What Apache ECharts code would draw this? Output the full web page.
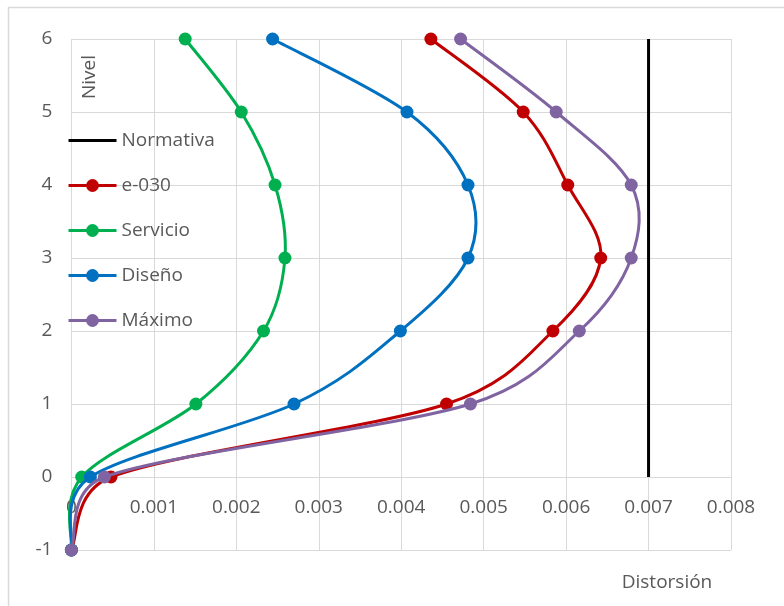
<!DOCTYPE html>
<html>
<head>
<meta charset="utf-8">
<script src="https://cdn.jsdelivr.net/npm/echarts@6/dist/echarts.min.js"></script>
<style>
html,body{margin:0;padding:0;background:#fff;}
#chart{width:784px;height:606px;}
</style>
</head>
<body>
<div id="chart"></div>
<script>
// Levels (y values)
var levels = [-1, 0, 1, 2, 3, 4, 5, 6];
// Distortion values per series
var e030     = [0, 0.00048, 0.00455, 0.00584, 0.00642, 0.00602, 0.00548, 0.00436];
var servicio = [0, 0.000125, 0.00151, 0.00233, 0.00259, 0.00247, 0.00206, 0.00138];
var diseno   = [0, 0.00023, 0.0027, 0.00399, 0.00481, 0.00481, 0.00407, 0.00244];
var maximo   = [0, 0.0004, 0.00484, 0.00616, 0.00679, 0.00679, 0.00588, 0.00472];
// Code limit line
var normativaX = [0.007, 0.007];
var normativaY = [0, 6];
var seriesNames = ['Normativa', 'e-030', 'Servicio', 'Diseño', 'Máximo'];
var xTicks = { min: 0, max: 0.008, step: 0.001 };
var yTicks = { min: -1, max: 6, step: 1 };

function pairs(xs, ys) { return xs.map(function (x, i) { return [x, ys[i]]; }); }

var FONT = 'Open Sans';
var TXT = '#595959';
var GRID = '#d9d9d9';

// Excel-like smoothed curve drawn segment by segment through the axis scales
function smoothCurve(xs, color, z) {
  var n = xs.length;
  return {
    type: 'custom', coordinateSystem: 'cartesian2d', silent: true, z: z,
    data: pairs(xs, levels), encode: { x: 0, y: 1 },
    renderItem: function (params, api) {
      var i = params.dataIndex;
      if (i >= n - 1) return null;
      function P(k) { k = Math.max(0, Math.min(n - 1, k)); return api.coord([xs[k], levels[k]]); }
      var p0 = P(i - 1), p1 = P(i), p2 = P(i + 1), p3 = P(i + 2);
      var seg = Math.hypot(p2[0] - p1[0], p2[1] - p1[1]);
      function ctrl(a, b) {
        var dx = (b[0] - a[0]) / 6, dy = (b[1] - a[1]) / 6;
        var l = Math.hypot(dx, dy), lim = seg / 2;
        if (l > lim && l > 0) { dx *= lim / l; dy *= lim / l; }
        return [dx, dy];
      }
      var c1 = ctrl(p0, p2), c2 = ctrl(p1, p3);
      return {
        type: 'bezierCurve',
        shape: { x1: p1[0], y1: p1[1], x2: p2[0], y2: p2[1],
                 cpx1: p1[0] + c1[0], cpy1: p1[1] + c1[1],
                 cpx2: p2[0] - c2[0], cpy2: p2[1] - c2[1] },
        style: { stroke: color, lineWidth: 3, fill: 'none', lineCap: 'round' }
      };
    }
  };
}

function markers(name, xs, color, z) {
  return {
    name: name, type: 'line', data: pairs(xs, levels), z: z,
    symbol: 'circle', symbolSize: 13,
    lineStyle: { color: color, width: 3, opacity: 0 },
    itemStyle: { color: color },
    emphasis: { disabled: true }
  };
}

var legendData = seriesNames.map(function (n) {
  return n === 'Normativa' ? { name: n, icon: 'path://M0 0H48V3H0Z' } : { name: n };
});

var chart = echarts.init(document.getElementById('chart'));
chart.setOption({
  animation: false,
  backgroundColor: '#fff',
  textStyle: { fontFamily: FONT },
  grid: { left: 71.4, right: 53, top: 39, bottom: 56, containLabel: false },
  xAxis: {
    type: 'value', min: xTicks.min, max: xTicks.max, interval: xTicks.step,
    position: 'bottom', offset: -73,
    axisLine: { show: false, onZero: false },
    axisTick: { show: false },
    axisLabel: { color: TXT, fontSize: 19, fontFamily: FONT, margin: 21,
      formatter: function (v) { return v === 0 ? '0' : v.toFixed(3); } },
    splitLine: { show: true, lineStyle: { color: GRID, width: 1 } }
  },
  yAxis: {
    type: 'value', min: yTicks.min, max: yTicks.max, interval: yTicks.step,
    axisLine: { show: false, onZero: false },
    axisTick: { show: false },
    axisLabel: { color: TXT, fontSize: 19, fontFamily: FONT, margin: 19 },
    splitLine: { show: true, lineStyle: { color: GRID, width: 1 } }
  },
  legend: {
    data: legendData,
    orient: 'vertical', left: 62, top: 126,
    itemWidth: 48, itemHeight: 16, itemGap: 26,
    lineStyle: { width: 3, opacity: 1 },
    textStyle: { color: TXT, fontSize: 19, fontFamily: FONT },
    selectedMode: false
  },
  graphic: [
    { type: 'rect', shape: { x: 8.5, y: 7.5, width: 820, height: 700 },
      style: { fill: 'none', stroke: GRID, lineWidth: 1.5 }, silent: true, z: -10 },
    { type: 'text', x: 89.5, y: 77, rotation: Math.PI / 2,
      style: { text: 'Nivel', fill: TXT, font: '19px "Open Sans"', textAlign: 'center', textVerticalAlign: 'middle' } },
    { type: 'text', x: 667, y: 583,
      style: { text: 'Distorsión', fill: TXT, font: '19px "Open Sans"', textAlign: 'center', textVerticalAlign: 'middle' } }
  ],
  series: [
    { name: 'Normativa', type: 'line', data: pairs(normativaX, normativaY), z: 2,
      symbol: 'none', lineStyle: { color: '#000', width: 3 }, itemStyle: { color: '#000' },
      emphasis: { disabled: true } },
    smoothCurve(e030, '#C00000', 3),
    markers('e-030', e030, '#C00000', 4),
    smoothCurve(servicio, '#00B050', 5),
    markers('Servicio', servicio, '#00B050', 6),
    smoothCurve(diseno, '#0070C0', 7),
    markers('Diseño', diseno, '#0070C0', 8),
    smoothCurve(maximo, '#8064A2', 9),
    markers('Máximo', maximo, '#8064A2', 10)
  ]
});
</script>
</body>
</html>
